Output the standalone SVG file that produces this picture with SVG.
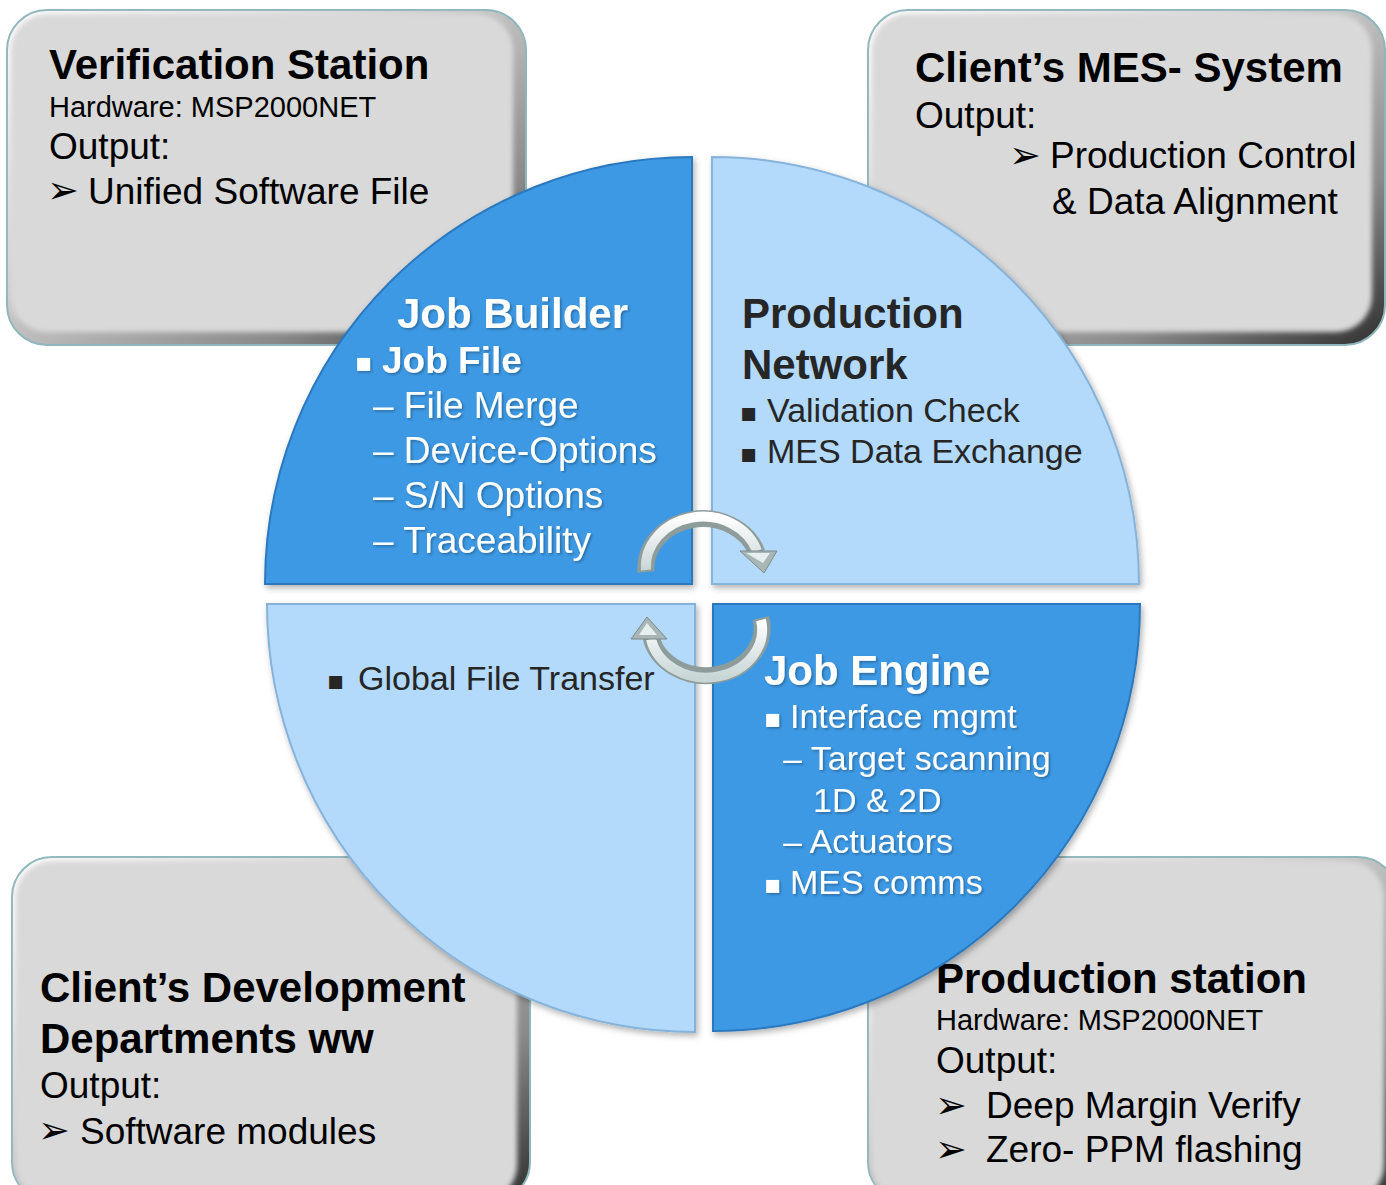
<svg xmlns="http://www.w3.org/2000/svg" width="1386" height="1185" viewBox="0 0 1386 1185">
<defs>
<style>
text{font-family:"Liberation Sans",Arial,"DejaVu Sans",sans-serif;}
.t{font-weight:bold;font-size:42px;fill:#000;}
.hw{font-size:29px;fill:#000;}
.o{font-size:37px;fill:#000;}
.arr{font-family:"DejaVu Sans",sans-serif;font-size:38px;fill:#000;}
.qw{fill:#fff;}
.qd{fill:#262626;}
.qb{font-weight:bold;font-size:42px;}
.q37{font-size:37px;}
.q34{font-size:34px;}
.sq{font-family:"DejaVu Sans",sans-serif;font-size:26px;}
.boxedge{stroke:#8fb7bb;stroke-width:2;}
.boxin{fill:#d9d9d9;}
.qdark{fill:#3d99e4;stroke:#2c79bf;stroke-width:2;}
.qlight{fill:#b3d9fb;stroke:#86b3da;stroke-width:2;}
</style>
<linearGradient id="bevel" x1="0" y1="0" x2="1" y2="1">
<stop offset="0" stop-color="#ffffff"/>
<stop offset="0.4" stop-color="#d2d2d2"/>
<stop offset="0.75" stop-color="#8a8a8a"/>
<stop offset="1" stop-color="#2e2e2e"/>
</linearGradient>
<filter id="soft" x="-5%" y="-5%" width="110%" height="110%">
<feGaussianBlur stdDeviation="2.5"/>
</filter>
<filter id="shadow" x="-10%" y="-10%" width="120%" height="120%">
<feDropShadow dx="2" dy="3" stdDeviation="3" flood-color="#000" flood-opacity="0.3"/>
</filter>
<filter id="ts" x="-5%" y="-20%" width="110%" height="140%">
<feDropShadow dx="1.5" dy="1.5" stdDeviation="1" flood-color="#000" flood-opacity="0.3"/>
</filter>
<linearGradient id="tube" x1="0" y1="0" x2="0" y2="1">
<stop offset="0" stop-color="#ffffff"/>
<stop offset="1" stop-color="#c9d6d6"/>
</linearGradient>
</defs>
<rect width="1386" height="1185" fill="#ffffff"/>

<g id="verification-station">
<rect x="7" y="10" width="519" height="335" rx="40" fill="url(#bevel)" class="boxedge"/>
<rect x="11" y="14" width="502" height="318" rx="36" class="boxin" filter="url(#soft)"/>
<text class="t" x="49" y="79">Verification Station</text>
<text class="hw" x="49" y="117">Hardware: MSP2000NET</text>
<text class="o" x="49" y="159">Output:</text>
<text class="arr" x="47" y="203">➢</text>
<text class="o" x="88" y="204">Unified Software File</text>
</g>

<g id="mes-system">
<rect x="868" y="10" width="517" height="335" rx="40" fill="url(#bevel)" class="boxedge"/>
<rect x="872" y="14" width="500" height="318" rx="36" class="boxin" filter="url(#soft)"/>
<text class="t" x="915" y="82">Client’s MES- System</text>
<text class="o" x="915" y="128">Output:</text>
<text class="arr" x="1009" y="168">➢</text>
<text class="o" x="1050" y="168">Production Control</text>
<text class="o" x="1052" y="214">&amp; Data Alignment</text>
</g>

<g id="development-departments">
<rect x="12" y="857" width="518" height="345" rx="40" fill="url(#bevel)" class="boxedge"/>
<rect x="16" y="861" width="501" height="340" rx="36" class="boxin" filter="url(#soft)"/>
<text class="t" x="40" y="1002">Client’s Development</text>
<text class="t" x="40" y="1053">Departments ww</text>
<text class="o" x="40" y="1098">Output:</text>
<text class="arr" x="38" y="1143">➢</text>
<text class="o" x="80" y="1144">Software modules</text>
</g>

<g id="production-station">
<rect x="868" y="857" width="530" height="345" rx="40" fill="url(#bevel)" class="boxedge"/>
<rect x="872" y="861" width="512" height="340" rx="36" class="boxin" filter="url(#soft)"/>
<text class="t" x="936" y="993">Production station</text>
<text class="hw" x="936" y="1030">Hardware: MSP2000NET</text>
<text class="o" x="936" y="1073">Output:</text>
<text class="arr" x="935" y="1118">➢</text>
<text class="o" x="986" y="1118">Deep Margin Verify</text>
<text class="arr" x="935" y="1162">➢</text>
<text class="o" x="986" y="1162">Zero- PPM flashing</text>
</g>

<g id="job-builder">
<path class="qdark" filter="url(#shadow)" d="M692,584 H265 A427,427 0 0 1 692,157 Z"/>
<g class="qw" filter="url(#ts)">
<text class="qb" x="397" y="328">Job Builder</text>
<text class="sq" x="355" y="371">▪</text>
<text class="q37" x="382" y="373" font-weight="bold">Job File</text>
<text class="q37" x="373" y="418">– File Merge</text>
<text class="q37" x="373" y="463">– Device-Options</text>
<text class="q37" x="373" y="508">– S/N Options</text>
<text class="q37" x="373" y="553">– Traceability</text>
</g>
</g>

<g id="production-network">
<path class="qlight" filter="url(#shadow)" d="M712,584 V157 A427,427 0 0 1 1139,584 Z"/>
<g class="qd">
<text class="qb" x="742" y="328">Production</text>
<text class="qb" x="742" y="379">Network</text>
<text class="sq" x="740" y="421">▪</text>
<text class="q34" x="767" y="422">Validation Check</text>
<text class="sq" x="740" y="462">▪</text>
<text class="q34" x="767" y="463">MES Data Exchange</text>
</g>
</g>

<g id="global-file-transfer">
<path class="qlight" filter="url(#shadow)" d="M695,604 V1032 A428,428 0 0 1 267,604 Z"/>
<g class="qd">
<text class="sq" x="327" y="689">▪</text>
<text class="q34" x="358" y="690">Global File Transfer</text>
</g>
</g>

<g id="job-engine">
<path class="qdark" filter="url(#shadow)" d="M713,604 H1140 A427,427 0 0 1 713,1031 Z"/>
<g class="qw" filter="url(#ts)">
<text class="qb" x="764" y="685">Job Engine</text>
<text class="sq" x="764" y="727">▪</text>
<text class="q34" x="790" y="728">Interface mgmt</text>
<text class="q34" x="783" y="770">– Target scanning</text>
<text class="q34" x="813" y="812">1D &amp; 2D</text>
<text class="q34" x="783" y="853">– Actuators</text>
<text class="sq" x="764" y="893">▪</text>
<text class="q34" x="790" y="894">MES comms</text>
</g>
</g>

<g id="connectors">
<g id="cycle-top">
<path d="M646,572 A57,50 0 0 1 757,553" fill="none" stroke="#8e9c9c" stroke-width="17"/>
<path d="M646,570 A57,50 0 0 1 757,551" fill="none" stroke="url(#tube)" stroke-width="10"/>
<polygon points="740,551 777,551 764,573" fill="#a9b6b6" stroke="#7c8a8a" stroke-width="1"/>
<polygon points="746,553 770,553 763,563" fill="#e6eeee"/>
</g>
<g id="cycle-bottom">
<path d="M761,618 A56,48 0 0 1 651,637" fill="none" stroke="#8e9c9c" stroke-width="17"/>
<path d="M761,620 A56,48 0 0 1 651,639" fill="none" stroke="url(#tube)" stroke-width="10"/>
<polygon points="647,617 631,639 667,639" fill="#a9b6b6" stroke="#7c8a8a" stroke-width="1"/>
<polygon points="647,623 639,635 657,635" fill="#e6eeee"/>
</g>
</g>
</svg>
